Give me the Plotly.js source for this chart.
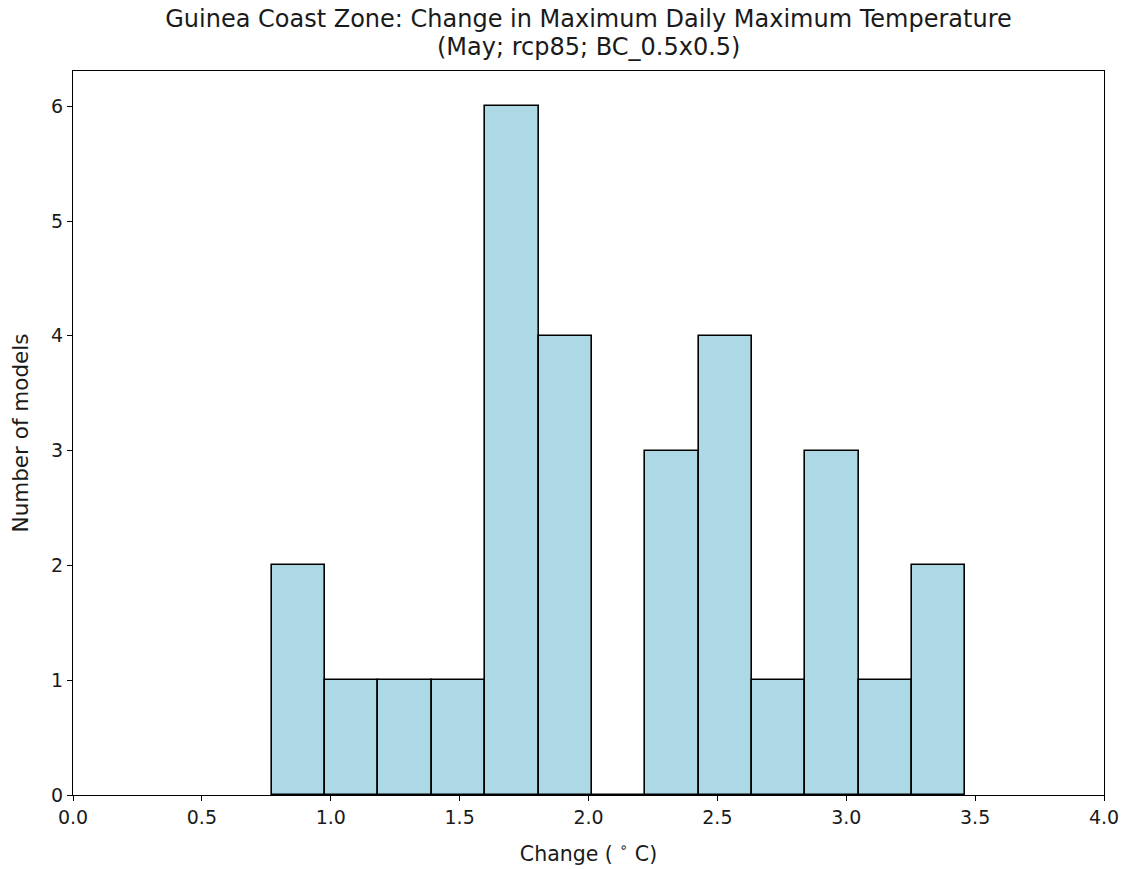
<!DOCTYPE html>
<html>
<head>
<meta charset="utf-8">
<script src="https://cdn.plot.ly/plotly-3.0.1.min.js"></script>
<style>html,body{margin:0;padding:0;background:#fff;}#chart{width:1127px;height:869px;}</style>
</head>
<body>
<div id="chart"></div>
<script>
// Histogram data
const binStart = 0.771;     // left edge of first bin (°C)
const binWidth = 0.207;     // bin width (°C)
const counts = [2, 1, 1, 1, 6, 4, 0, 3, 4, 1, 3, 1, 2];
const xTicks = [0, 0.5, 1, 1.5, 2, 2.5, 3, 3.5, 4];
const xTickLabels = ["0.0", "0.5", "1.0", "1.5", "2.0", "2.5", "3.0", "3.5", "4.0"];
const yTicks = [0, 1, 2, 3, 4, 5, 6];
const titleLine1 = 'Guinea Coast Zone: Change in Maximum Daily Maximum Temperature';
const titleLine2 = '(May; rcp85; BC_0.5x0.5)';

const leftEdges = counts.map((c, i) => binStart + i * binWidth);

const trace = {
  type: 'bar',
  x: leftEdges,
  y: counts,
  width: counts.map(() => binWidth),
  offset: 0,
  marker: { color: '#add8e6', line: { color: '#000000', width: 1.6 } },
  hoverinfo: 'x+y'
};

const FAM = 'DejaVu Sans, sans-serif';
const TXT = '#1a1a1a';

const layout = {
  width: 1127, height: 869,
  margin: { l: 73, r: 23, t: 71, b: 74, pad: 0 },
  paper_bgcolor: '#ffffff', plot_bgcolor: '#ffffff',
  font: { family: FAM, color: TXT, size: 19 },
  showlegend: false,
  bargap: 0,
  title: {
    text: titleLine1,
    font: { family: FAM, size: 24, color: TXT },
    x: (73 + 1104) / 2 / 1127, xanchor: 'center',
    y: 1 - 19 / 869, yanchor: 'middle', yref: 'container'
  },
  annotations: [{
    text: titleLine2, showarrow: false,
    xref: 'paper', yref: 'paper', x: 0.5, xanchor: 'center',
    y: 1 + (71 - 47) / 724, yanchor: 'middle',
    font: { family: FAM, size: 24, color: TXT }
  }],
  xaxis: {
    range: [0, 4], tickvals: xTicks, ticktext: xTickLabels,
    showgrid: false, zeroline: false,
    showline: true, linecolor: '#000', linewidth: 1.2, mirror: true,
    ticks: 'outside', ticklen: 5, tickwidth: 1.2, tickcolor: '#000',
    tickfont: { family: FAM, size: 19, color: TXT },
    title: { text: 'Change ( <sup>∘</sup> C)', font: { family: FAM, size: 20.5, color: TXT }, standoff: 19 }
  },
  yaxis: {
    range: [0, 6.307], tickvals: yTicks,
    showgrid: false, zeroline: false,
    showline: true, linecolor: '#000', linewidth: 1.2, mirror: true,
    ticks: 'outside', ticklen: 5, tickwidth: 1.2, tickcolor: '#000',
    tickfont: { family: FAM, size: 19, color: TXT },
    title: { text: 'Number of models', font: { family: FAM, size: 21.5, color: TXT }, standoff: 16 }
  }
};

Plotly.newPlot('chart', [trace], layout, { displayModeBar: false });
</script>
</body>
</html>
